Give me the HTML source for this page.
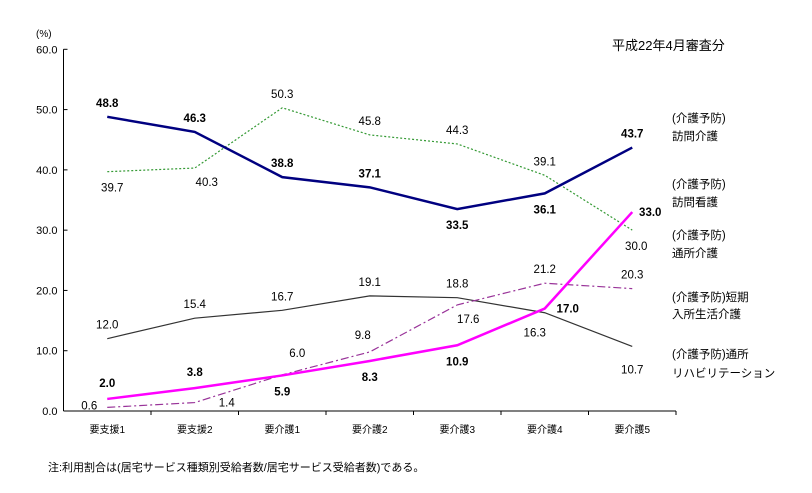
<!DOCTYPE html>
<html><head><meta charset="utf-8"><style>
body{margin:0;background:#fff;}
svg text{font-family:"Liberation Sans","Noto Sans CJK JP",sans-serif;}
</style></head><body>
<svg width="812" height="488" xmlns="http://www.w3.org/2000/svg">
<g id="axes"></g><g id="series"></g><g id="labels"></g>
<text x="612" y="50" font-size="13">平成22年4月審査分</text>
<text x="36" y="37" font-size="10">(%)</text>
<g font-size="11.5" fill="#000">
<text x="672" y="122"><tspan x="672">(介護予防)</tspan><tspan x="672" dy="18">訪問介護</tspan></text>
<text x="672" y="188"><tspan x="672">(介護予防)</tspan><tspan x="672" dy="18">訪問看護</tspan></text>
<text x="672" y="239"><tspan x="672">(介護予防)</tspan><tspan x="672" dy="18">通所介護</tspan></text>
<text x="672" y="301"><tspan x="672">(介護予防)短期</tspan><tspan x="672" dy="17">入所生活介護</tspan></text>
<text x="672" y="358"><tspan x="672">(介護予防)通所</tspan><tspan x="672" dy="19">リハビリテーション</tspan></text>
</g>
<text x="48" y="471" font-size="11">注:利用割合は(居宅サービス種類別受給者数/居宅サービス受給者数)である。</text>
</svg>
<script>
const categories=["要支援1","要支援2","要介護1","要介護2","要介護3","要介護4","要介護5"];
const yTicks=[0,10,20,30,40,50,60];
const visitCare=[48.8,46.3,38.8,37.1,33.5,36.1,43.7];
const visitNursing=[39.7,40.3,50.3,45.8,44.3,39.1,30.0];
const dayCare=[12.0,15.4,16.7,19.1,18.8,16.3,10.7];
const dayRehab=[2.0,3.8,5.9,8.3,10.9,17.0,33.0];
const shortStay=[0.6,1.4,6.0,9.8,17.6,21.2,20.3];
const NS="http://www.w3.org/2000/svg";
const X0=63.5,STEP=87.5,Y0=411,YTOP=49.3;
const xs=i=>X0+STEP*(i+0.5);
const ys=v=>Y0-(Y0-YTOP)*v/60;
function mk(tag,attrs,parent){const e=document.createElementNS(NS,tag);for(const k in attrs)e.setAttribute(k,attrs[k]);parent.appendChild(e);return e;}
const axes=document.getElementById('axes'),series=document.getElementById('series'),labels=document.getElementById('labels');
let a=mk('line',{x1:X0,x2:X0,y1:YTOP,y2:Y0,stroke:'#000'},axes);

a=mk('line',{x1:X0,x2:X0+STEP*7,y1:Y0,y2:Y0,stroke:'#000'},axes);

yTicks.forEach(t=>{
 mk('line',{x1:X0,x2:X0+4,y1:ys(t),y2:ys(t),stroke:'#000'},axes);
 const tx=mk('text',{x:X0-6,y:ys(t)+4,'font-size':11,'text-anchor':'end'},axes);
 tx.textContent=t.toFixed(1);
 
});
categories.forEach((c,i)=>{
 mk('line',{x1:X0+STEP*(i+1),x2:X0+STEP*(i+1),y1:Y0,y2:Y0+4,stroke:'#000'},axes);
 const tx=mk('text',{x:xs(i),y:Y0+22,'font-size':10,'text-anchor':'middle'},axes);
 tx.textContent=c;
 
});
function drawSeries(data,name,style,bold,offs){
 const p=mk('polyline',Object.assign({points:data.map((v,i)=>xs(i)+','+ys(v)).join(' '),fill:'none'},style),series);
 
 data.forEach((v,i)=>{
  const t=mk('text',{x:xs(i)+offs[i][0],y:ys(v)+offs[i][1],'font-size':11.5,'text-anchor':'middle','font-weight':bold?'bold':'normal'},labels);
  t.textContent=v.toFixed(1);
  
 });
}
drawSeries(visitNursing,'visit-nursing',{stroke:'#339933','stroke-width':1.2,'stroke-dasharray':'2,2'},false,
 [[5,20],[12,18],[0,-10],[0,-10],[0,-10],[0,-10],[4,20]]);
drawSeries(dayCare,'day-care',{stroke:'#333','stroke-width':1.2},false,
 [[0,-10],[0,-10],[0,-10],[0,-10],[0,-10],[-10,24],[0,27]]);
drawSeries(shortStay,'short-stay',{stroke:'#993399','stroke-width':1.2,'stroke-dasharray':'8,3,2,3'},false,
 [[-18,2],[32,4],[15,-18],[-7,-13],[11,18],[0,-10],[0,-10]]);
drawSeries(visitCare,'visit-care',{stroke:'#000080','stroke-width':2.5},true,
 [[0,-10],[0,-10],[0,-10],[0,-10],[0,20],[0,20],[0,-10]]);
drawSeries(dayRehab,'day-rehab',{stroke:'#ff00ff','stroke-width':2.5},true,
 [[0,-12],[0,-12],[0,20],[0,20],[0,20],[23,4],[18,4]]);
</script>
</body></html>
